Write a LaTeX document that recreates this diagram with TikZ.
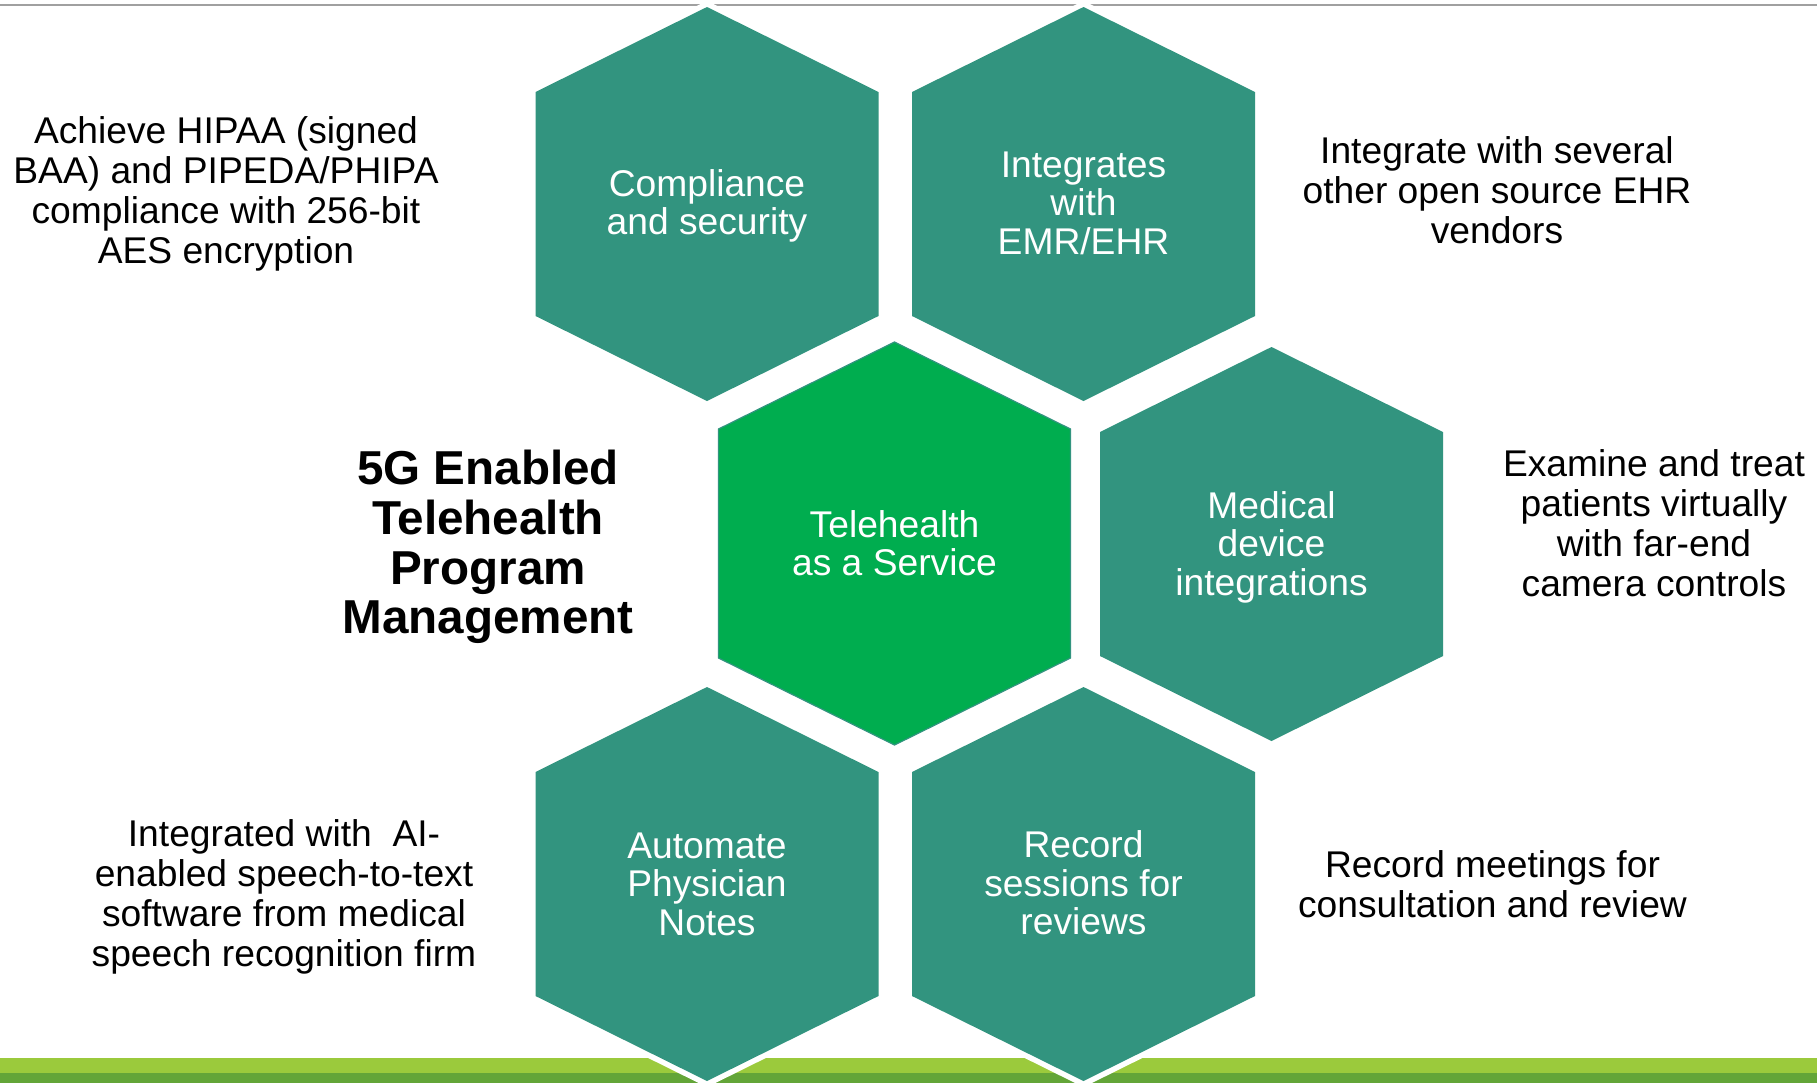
\documentclass[tikz,border=0pt]{standalone}
\usepackage{fontspec}
\setmainfont{Liberation Sans}
\usepackage{xcolor}
\usetikzlibrary{arrows.meta}

\definecolor{hexteal}{RGB}{50,148,127}
\definecolor{hexgreen}{RGB}{0,173,79}
\definecolor{barlight}{RGB}{155,202,60}
\definecolor{bardark}{RGB}{99,165,56}
\definecolor{topgray}{RGB}{160,160,160}

\begin{document}
\begin{tikzpicture}[x=0.5pt,y=-0.5pt,
  hexcell/.style={fill=#1, preaction={draw=white, line width=5.5pt}},
  hexlabel/.style={text=white, align=center, font=\fontsize{18.6}{19.3}\selectfont},
  sidelabel/.style={align=center, font=\fontsize{18.6}{20.1}\selectfont},
  titlelabel/.style={align=center, font=\bfseries\fontsize{23.8}{24.9}\selectfont}]
\useasboundingbox (0,0) rectangle (1817,1083);
\fill[white] (0,0) rectangle (1817,1083);
\draw[topgray, line width=1pt] (0,4.5) -- (1817,4.5);
\fill[barlight] (0,1057.5) rectangle (1817,1073);
\fill[bardark] (0,1073) rectangle (1817,1083);

\foreach \cx/\cy in {707/204, 1083.5/204, 1271.5/544, 707/884, 1083.5/884}
  \path[hexcell=hexteal] (\cx,\cy-197) -- (\cx+171.5,\cy-112) -- (\cx+171.5,\cy+112)
    -- (\cx,\cy+197) -- (\cx-171.5,\cy+112) -- (\cx-171.5,\cy-112) -- cycle;
\path[hexcell=hexgreen, draw=hexteal, line width=0.6pt] (894.5,342) -- (1070.5,429) -- (1070.5,658)
  -- (894.5,745) -- (718.5,658) -- (718.5,429) -- cycle;

\node[hexlabel] (comp) at (707,206) {Compliance\\and security};
\node[hexlabel] (emr) at (1083.5,203) {Integrates\\with\\EMR/EHR};
\node[hexlabel] (taas) at (894.5,543) {Telehealth\\as a Service};
\node[hexlabel] (med) at (1271.5,547) {Medical\\device\\integrations};
\node[hexlabel] (notes) at (707,884) {Automate\\Physician\\Notes};
\node[hexlabel] (rec) at (1083.5,883) {Record\\sessions for\\reviews};

\node[titlelabel] (title) at (488,547) {5G Enabled\\Telehealth\\Program\\Management};

\node[sidelabel] (hipaa) at (226,194) {Achieve HIPAA (signed\\BAA) and PIPEDA/PHIPA\\compliance with 256-bit\\AES encryption};
\node[sidelabel] (vend) at (1497,190) {Integrate with several\\other open source EHR\\vendors};
\node[sidelabel] (exam) at (1654,523) {Examine and treat\\patients virtually\\with far-end\\camera controls};
\node[sidelabel] (aitext) at (284,897) {Integrated with~ AI-\\enabled speech-to-text\\software from medical\\speech recognition firm};
\node[sidelabel] (meet) at (1492.5,884) {Record meetings for\\consultation and review};
\end{tikzpicture}
\end{document}
